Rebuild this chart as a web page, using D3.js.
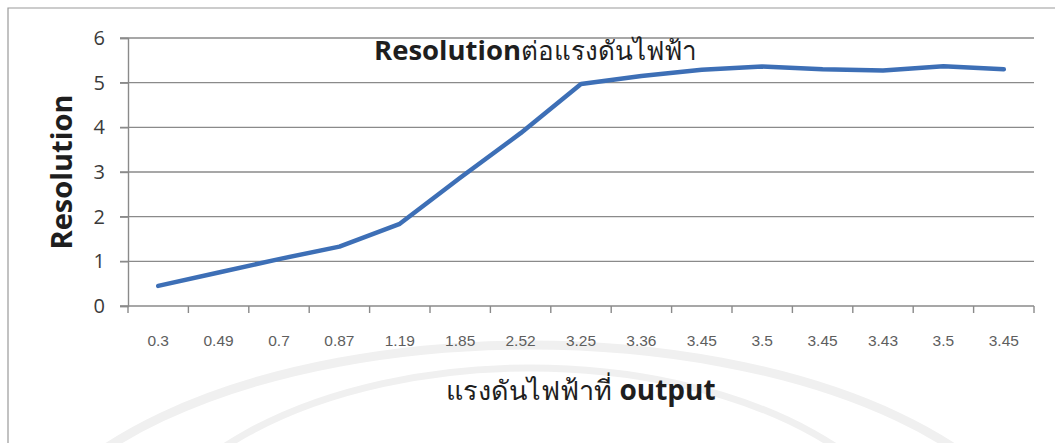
<!DOCTYPE html>
<html>
<head>
<meta charset="utf-8">
<script src="https://cdn.jsdelivr.net/npm/d3@7"></script>
<style>
  html, body { margin: 0; padding: 0; background: #ffffff; }
  svg { display: block; }
</style>
</head>
<body>
<svg id="chart" width="1055" height="443"></svg>
<script>
// Output voltage (category labels along the x axis)
const categories = ["0.3", "0.49", "0.7", "0.87", "1.19", "1.85", "2.52", "3.25",
                    "3.36", "3.45", "3.5", "3.45", "3.43", "3.5", "3.45"];
// Resolution measured at each output voltage
const resolution = [0.45, 0.75, 1.05, 1.33, 1.84, 2.87, 3.87, 4.97,
                    5.15, 5.29, 5.36, 5.30, 5.27, 5.37, 5.30];
const yTicks = [0, 1, 2, 3, 4, 5, 6];

const chartTitleBold = "Resolution";
const chartTitleRest = "ต่อแรงดันไฟฟ้า";
const xTitleThai = "แรงดันไฟฟ้าที่ ";
const xTitleLatin = "output";
const yTitle = "Resolution";

const W = 1055, H = 443;
const plot = { left: 128, right: 1034, top: 38, bottom: 306 };

const svg = d3.select("#chart");

// faint background seal
const seal = svg.append("g").attr("fill", "none").attr("stroke", "#f0f0f0");
seal.append("ellipse").attr("cx", 530).attr("cy", 590).attr("rx", 520).attr("ry", 245)
  .attr("stroke-width", 9);
seal.append("ellipse").attr("cx", 530).attr("cy", 590).attr("rx", 400).attr("ry", 222)
  .attr("stroke-width", 7);

// chart frame
svg.append("path")
  .attr("d", `M8,${H} L8,8 L${W},8`)
  .attr("fill", "none").attr("stroke", "#9a9a9a").attr("stroke-width", 1.2);

const x = d3.scaleBand().domain(d3.range(categories.length))
  .range([plot.left, plot.right]).paddingInner(0).paddingOuter(0);
const y = d3.scaleLinear().domain([0, 6]).range([plot.bottom, plot.top]);

// horizontal gridlines (with outer tick stubs)
svg.append("g").selectAll("line").data(yTicks.filter(d => d > 0)).join("line")
  .attr("x1", plot.left - 8).attr("x2", plot.right)
  .attr("y1", d => y(d)).attr("y2", d => y(d))
  .attr("stroke", "#8a8a8a").attr("stroke-width", 1.4);

// y axis
const yAxis = d3.axisLeft(y).tickValues(yTicks).tickFormat(d3.format("d"))
  .tickSize(8).tickPadding(15);
const gy = svg.append("g").attr("transform", `translate(${plot.left},0)`).call(yAxis);
gy.select(".domain").attr("stroke", "#8a8a8a").attr("stroke-width", 1.4);
gy.selectAll(".tick line").attr("stroke", "#8a8a8a").attr("stroke-width", 1.4);
gy.selectAll(".tick text")
  .attr("font-family", "'Open Sans', sans-serif").attr("font-size", 20)
  .attr("fill", "#3a3a3a");

// x axis: ticks sit on the category boundaries
const gx = svg.append("g").attr("transform", `translate(0,${plot.bottom})`);
gx.append("line").attr("x1", plot.left - 8).attr("x2", plot.right)
  .attr("y1", 0).attr("y2", 0).attr("stroke", "#8a8a8a").attr("stroke-width", 1.4);
const boundaries = d3.range(categories.length + 1).map(i =>
  i < categories.length ? x(i) : x(categories.length - 1) + x.bandwidth());
gx.selectAll("line.tk").data(boundaries).join("line").attr("class", "tk")
  .attr("x1", d => d).attr("x2", d => d).attr("y1", 0).attr("y2", 7)
  .attr("stroke", "#8a8a8a").attr("stroke-width", 1.4);
gx.selectAll("text").data(categories).join("text")
  .attr("x", (d, i) => x(i) + x.bandwidth() / 2)
  .attr("y", 40)
  .attr("text-anchor", "middle")
  .attr("font-family", "'Liberation Sans', Arial, sans-serif")
  .attr("font-size", 15.5)
  .attr("fill", "#5e5e5e")
  .text(d => d);

// data line
const line = d3.line()
  .x((d, i) => x(i) + x.bandwidth() / 2)
  .y(d => y(d));
svg.append("path").datum(resolution)
  .attr("d", line)
  .attr("fill", "none")
  .attr("stroke", "#3d6fb6")
  .attr("stroke-width", 4.5)
  .attr("stroke-linecap", "round")
  .attr("stroke-linejoin", "round");

// chart title
const t = svg.append("text").attr("x", 374).attr("y", 60)
  .attr("font-family", "'Open Sans', 'Noto Sans', sans-serif").attr("fill", "#1e1e1e");
t.append("tspan").attr("font-weight", 700).attr("font-size", 27.5).text(chartTitleBold);
t.append("tspan").attr("font-weight", 400).attr("font-size", 26).text(chartTitleRest);

// x axis title
const xt = svg.append("text").attr("x", (plot.left + plot.right) / 2).attr("y", 400)
  .attr("text-anchor", "middle")
  .attr("font-family", "'Open Sans', 'Noto Sans', sans-serif").attr("fill", "#1e1e1e");
xt.append("tspan").attr("font-weight", 500).attr("font-size", 27).text(xTitleThai);
xt.append("tspan").attr("font-weight", 700).attr("font-size", 28).text(xTitleLatin);

// y axis title
svg.append("text")
  .attr("transform", `translate(72,${(plot.top + plot.bottom) / 2}) rotate(-90)`)
  .attr("text-anchor", "middle")
  .attr("font-family", "'Open Sans', sans-serif")
  .attr("font-weight", 700).attr("font-size", 29)
  .attr("fill", "#1e1e1e")
  .text(yTitle);
</script>
</body>
</html>
